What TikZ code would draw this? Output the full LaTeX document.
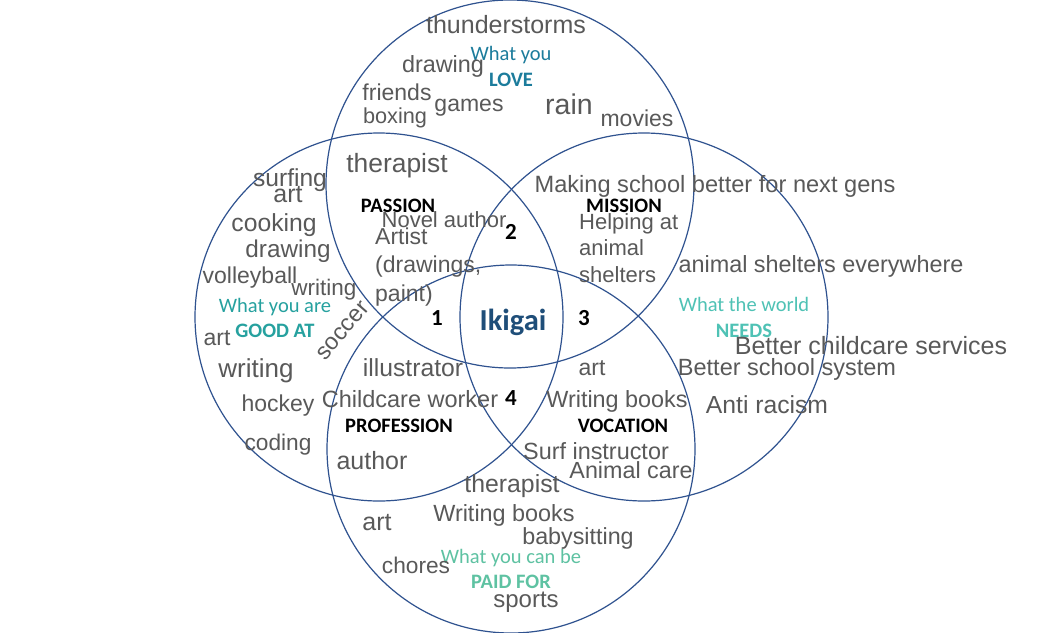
\documentclass[tikz,border=0pt]{standalone}
\usepackage{fontspec}
\setmainfont{Liberation Sans}
\newfontfamily\calfont{Carlito}
\definecolor{wordgray}{HTML}{595959}
\definecolor{ringblue}{HTML}{2F528F}
\definecolor{lovecol}{HTML}{1C7C9C}
\definecolor{goodcol}{HTML}{26A19F}
\definecolor{needcol}{HTML}{4FC2B5}
\definecolor{paidcol}{HTML}{5EC2A2}
\definecolor{ikigaicol}{HTML}{1F4E79}
\begin{document}
\begin{tikzpicture}[x=1pt,y=-1pt,
  ring/.style={ringblue, line width=1.2pt},
  word/.style={text=wordgray, inner sep=0pt, font=\fontsize{#1}{#1}\selectfont},
  area/.style={inner sep=0pt, font=\calfont\bfseries\fontsize{20.5}{20.5}\selectfont},
  num/.style={inner sep=0pt, font=\calfont\bfseries\fontsize{23}{23}\selectfont},
  ask/.style={text=#1, inner sep=0pt, align=center, font=\calfont\fontsize{20.5}{25.5}\selectfont}]
\useasboundingbox[fill=white] (0,0) rectangle (1043,632);
% the four circles
\draw[ring] (510,184) circle (184pt);
\draw[ring] (379,317) circle (184pt);
\draw[ring] (644,317) circle (184pt);
\draw[ring] (511,449) circle (184pt);
% what you love
\node[ask=lovecol] (love) at (511,66.5) {What you\\\textbf{LOVE}};
\node[word=25] (thunder) at (506,25) {thunderstorms};
\node[word=23.4] (drawtop) at (443,66) {drawing};
\node[word=23] (friends) at (397,92) {friends};
\node[word=21.7] (boxing) at (395,118) {boxing};
\node[word=23] (games) at (469,108) {games};
\node[word=28.5] (rain) at (569,104) {rain};
\node[word=23] (movies) at (637,118) {movies};
% what you are good at
\node[ask=goodcol] (good) at (275,318) {What you are\\\textbf{GOOD AT}};
\node[word=26.4] (therapisttop) at (397,166) {therapist};
\node[word=24.6] (surfing) at (290,180) {surfing};
\node[word=25] (artleft) at (288,195) {art};
\node[word=24.7] (cooking) at (274,225) {cooking};
\node[word=24.3] (drawleft) at (288,251) {drawing};
\node[word=23] (volley) at (250,278) {volleyball};
\node[word=22.5] (writesmall) at (324,290) {writing};
\node[word=23] (artfar) at (217,338) {art};
\node[word=23.4, rotate=49] (soccer) at (343,331) {soccer};
\node[word=26] (writeleft) at (256,371) {writing};
\node[word=23] (hockey) at (278,406) {hockey};
\node[word=22.7] (coding) at (278,445) {coding};
% passion
\node[area] (passion) at (398,206) {PASSION};
\node[word=22] (novel) at (444,220) {Novel author};
\node[word=23, anchor=west, align=left, font=\fontsize{23}{28.5}\selectfont] (artist) at (375,267) {Artist\\(drawings,\\paint)};
% mission
\node[area] (mission) at (624,206) {MISSION};
\node[word=23.6] (school) at (715,186) {Making school better for next gens};
\node[word=22, anchor=west, align=left, font=\fontsize{22}{26.5}\selectfont] (helping) at (579,248) {Helping at\\animal\\shelters};
% what the world needs
\node[ask=needcol] (needs) at (744,317.5) {What the world\\\textbf{NEEDS}};
\node[word=23.4] (shelters) at (821,266) {animal shelters everywhere};
\node[word=25] (childcare) at (871,346) {Better childcare services};
\node[word=23.5] (schoolsys) at (787,369) {Better school system};
\node[word=24.7] (racism) at (767,405) {Anti racism};
% vocation
\node[word=23] (artvoc) at (592,368) {art};
\node[word=23.4] (booksvoc) at (617,401) {Writing books};
\node[area] (vocation) at (623,426) {VOCATION};
\node[word=23.4] (surf) at (596,451) {Surf instructor};
\node[word=23.3] (animalcare) at (631,470) {Animal care};
% profession
\node[word=24.7] (illus) at (413,368) {illustrator};
\node[word=23.5] (childworker) at (410,399) {Childcare worker};
\node[area] (profession) at (399,426) {PROFESSION};
\node[word=25] (author) at (372,461) {author};
% what you can be paid for
\node[ask=paidcol] (paid) at (511,569) {What you can be\\\textbf{PAID FOR}};
\node[word=24.8] (therapistlow) at (512,486) {therapist};
\node[word=23.4] (bookslow) at (504,515) {Writing books};
\node[word=25] (artlow) at (377,523) {art};
\node[word=23.3] (babysit) at (578,538) {babysitting};
\node[word=22.7] (chores) at (416,565) {chores};
\node[word=24] (sports) at (526,602) {sports};
% overlaps
\node[num] (one) at (437,318) {1};
\node[num] (two) at (511,232) {2};
\node[num] (three) at (584,318) {3};
\node[num] (four) at (511,398) {4};
\node[inner sep=0pt, text=ikigaicol, font=\calfont\bfseries\fontsize{30.5}{30.5}\selectfont] (ikigai) at (513,322) {Ikigai};
\end{tikzpicture}
\end{document}
